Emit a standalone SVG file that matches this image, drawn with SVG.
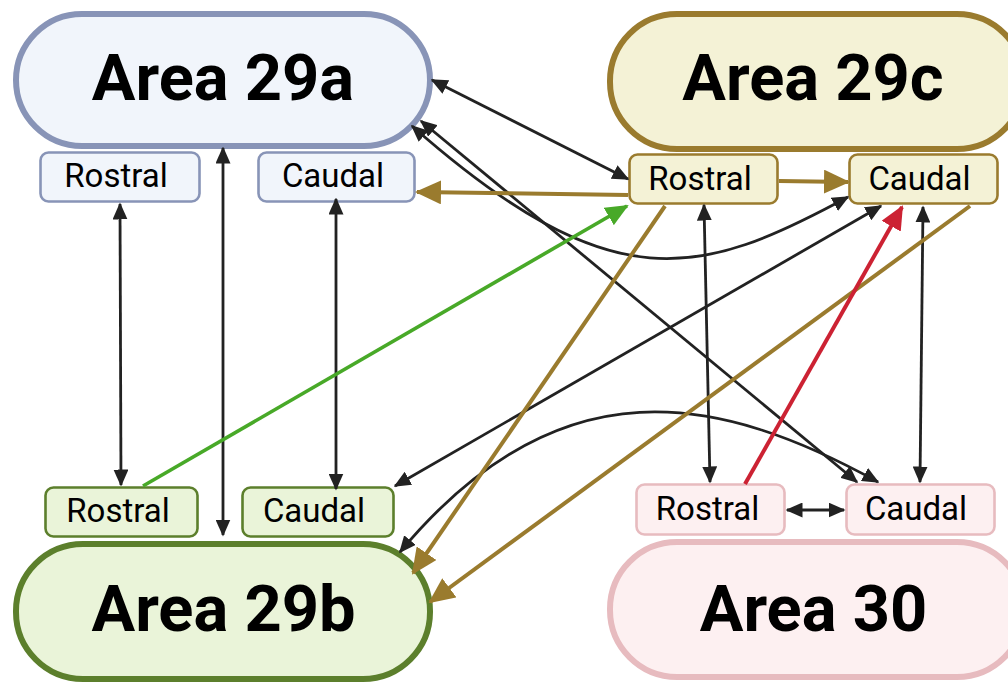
<svg xmlns="http://www.w3.org/2000/svg" width="1008" height="684" viewBox="0 0 1008 684">
  <style>
    .title { font-family: Roboto, "Liberation Sans", Arial, sans-serif; font-weight: 700; font-size: 65px; fill: #000; text-anchor: middle; }
    .sub { font-family: Roboto, "Liberation Sans", Arial, sans-serif; font-weight: 400; font-size: 33px; fill: #000; text-anchor: middle; }
    .pill { stroke-width: 6; }
    .box { stroke-width: 2.6; }
    .a29a { fill: #f1f5fb; stroke: #8894b7; }
    .a29b { fill: #eaf4d9; stroke: #5c7f2c; }
    .a29c { fill: #f4f2d6; stroke: #9a7b2e; }
    .a30 { fill: #fdf0f1; stroke: #e7bbbf; }
    .k { fill: none; stroke: #222; stroke-width: 2.8; marker-start: url(#hk); marker-end: url(#hk); }
    .gold { fill: none; stroke: #9a7b2e; stroke-width: 4; marker-end: url(#hg); }
    .green { fill: none; stroke: #48a928; stroke-width: 3.6; marker-end: url(#hgr); }
    .red { fill: none; stroke: #cc2233; stroke-width: 4; marker-end: url(#hr); }
  </style>
  <defs>
    <marker id="hk" markerUnits="userSpaceOnUse" markerWidth="17" markerHeight="15" refX="15.5" refY="7.5" orient="auto-start-reverse">
      <path d="M0,0 L17,7.5 L0,15 z" fill="#222"/>
    </marker>
    <marker id="hg" markerUnits="userSpaceOnUse" markerWidth="26" markerHeight="24" refX="24" refY="12" orient="auto">
      <path d="M0,0 L26,12 L0,24 z" fill="#9a7b2e"/>
    </marker>
    <marker id="hgr" markerUnits="userSpaceOnUse" markerWidth="23" markerHeight="20" refX="21" refY="10" orient="auto">
      <path d="M0,0 L23,10 L0,20 z" fill="#48a928"/>
    </marker>
    <marker id="hr" markerUnits="userSpaceOnUse" markerWidth="24" markerHeight="22" refX="22" refY="11" orient="auto">
      <path d="M0,0 L24,11 L0,22 z" fill="#cc2233"/>
    </marker>
  </defs>

  <!-- Area 29a -->
  <g id="area29a">
    <rect class="pill a29a" x="16" y="14" width="414" height="132" rx="66"/>
    <text class="title" x="223" y="100">Area 29a</text>
  </g>
  <g id="area29a-rostral">
    <rect class="box a29a" x="40.5" y="152.5" width="159" height="49" rx="8"/>
    <text class="sub" x="116" y="187">Rostral</text>
  </g>
  <g id="area29a-caudal">
    <rect class="box a29a" x="258.5" y="152.5" width="156" height="49" rx="8"/>
    <text class="sub" x="333" y="187">Caudal</text>
  </g>

  <!-- Area 29c -->
  <g id="area29c">
    <rect class="pill a29c" x="610" y="14" width="414" height="135" rx="67"/>
    <text class="title" x="813" y="100">Area 29c</text>
  </g>
  <g id="area29c-rostral">
    <rect class="box a29c" x="629.5" y="154.5" width="148" height="49" rx="8"/>
    <text class="sub" x="700" y="190">Rostral</text>
  </g>
  <g id="area29c-caudal">
    <rect class="box a29c" x="849.5" y="154.5" width="148" height="49" rx="8"/>
    <text class="sub" x="919.5" y="190">Caudal</text>
  </g>

  <!-- Area 29b -->
  <g id="area29b">
    <rect class="pill a29b" x="16" y="544" width="414" height="135" rx="67"/>
    <text class="title" x="223.5" y="631">Area 29b</text>
  </g>
  <g id="area29b-rostral">
    <rect class="box a29b" x="45.5" y="487.5" width="152" height="49" rx="8"/>
    <text class="sub" x="118" y="522">Rostral</text>
  </g>
  <g id="area29b-caudal">
    <rect class="box a29b" x="242.5" y="487.5" width="151" height="49" rx="8"/>
    <text class="sub" x="314" y="522">Caudal</text>
  </g>

  <!-- Area 30 -->
  <g id="area30">
    <rect class="pill a30" x="610" y="542" width="414" height="135" rx="67"/>
    <text class="title" x="813.5" y="631">Area 30</text>
  </g>
  <g id="area30-rostral">
    <rect class="box a30" x="636.5" y="484.5" width="148" height="50" rx="8"/>
    <text class="sub" x="707.5" y="520">Rostral</text>
  </g>
  <g id="area30-caudal">
    <rect class="box a30" x="846.5" y="484.5" width="148" height="50" rx="8"/>
    <text class="sub" x="916" y="520">Caudal</text>
  </g>

  <!-- Connections -->
  <g id="connectors">
    <!-- reciprocal (black) -->
    <path class="k" d="M432,80 L628,179"/>
    <path class="k" d="M421,121 L857,482"/>
    <path class="k" d="M412,126 C613,303 700,277 848,197"/>
    <path class="k" d="M395,486 L881,206"/>
    <path class="k" d="M400,552 C560,360 720,395 878,482"/>
    <path class="k" d="M704,205 L710,482"/>
    <path class="k" d="M923,207 L920,482"/>
    <path class="k" d="M787,510 L844,510"/>
    <path class="k" d="M120,204 L121,485"/>
    <path class="k" d="M223,148 L223,535"/>
    <path class="k" d="M336,199 L336,489"/>
    <!-- one-way -->
    <path class="gold" d="M628,195 L417,192"/>
    <path class="gold" d="M779,181 L848,182"/>
    <path class="gold" d="M665,206 L413,573"/>
    <path class="gold" d="M970,206 L430,602"/>
    <path class="green" d="M143,486 L627,206"/>
    <path class="red" d="M745,484 L902,207"/>
  </g>
</svg>
